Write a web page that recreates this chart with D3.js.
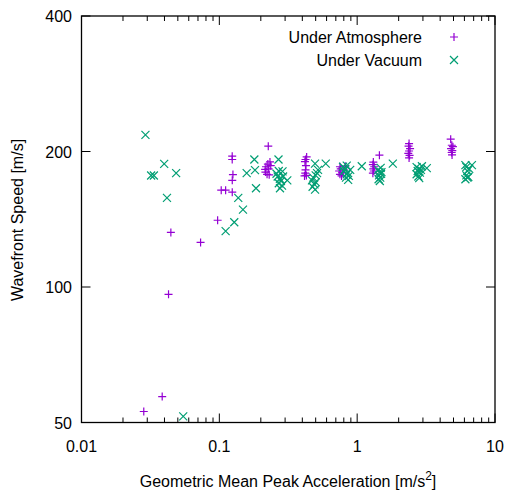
<!DOCTYPE html>
<html><head><meta charset="utf-8">
<script src="https://cdn.jsdelivr.net/npm/d3@7"></script>
<style>body{margin:0;background:#fff}svg{display:block}text{font-family:"Liberation Sans",Arial,sans-serif}</style>
</head><body>
<script>
const xTicks = [0.01, 0.1, 1, 10];
const xTickLabels = ["0.01", "0.1", "1", "10"];
const yTicks = [50, 100, 200, 400];
const yTickLabels = ["50", "100", "200", "400"];
const seriesNames = ["Under Atmosphere", "Under Vacuum"];

const atmosphere = [
  [0.0283,52.9],[0.0385,57.1],[0.0445,132.2],[0.0428,96.3],[0.0731,125.6],[0.0972,140.7],
  [0.1032,164.1],[0.1111,164.1],[0.1241,162.4],[0.1241,172.6],[0.1255,177.7],[0.124,192],[0.124,195.3],
  [0.2265,205.5],[0.233,189.6],[0.225,187.5],[0.218,185],[0.215,182.5],[0.216,180],[0.222,178],[0.23,177.5],[0.236,186],[0.228,183],
  [0.422,192],[0.43,194.5],[0.418,190],[0.425,186],[0.422,182],[0.42,179],[0.428,177],[0.415,176.5],
  [0.75,185],[0.76,183],[0.74,181],[0.78,179.5],[0.75,178],[0.77,176.5],[0.82,185.5],[0.8,182],
  [1.45,196.3],[1.31,189.5],[1.3,187],[1.33,185],[1.31,183],[1.32,181],[1.3,179],
  [2.38,208.3],[2.36,205.5],[2.42,203],[2.38,200.5],[2.35,198],[2.4,196],[2.38,193.5],
  [4.77,213],[4.86,206.5],[4.95,205],[4.8,203],[4.9,201],[4.85,199],[4.88,196.5]
];
const vacuum = [
  [0.0291,217.7],[0.0398,187.7],[0.0320,176.9],[0.0335,176.9],[0.0486,179],[0.0417,157.8],[0.0547,51.6],
  [0.1111,133.1],[0.1283,139.3],[0.1372,157.8],[0.1484,148.6],[0.1579,179],[0.1814,181.8],[0.1795,192],[0.1845,165.7],
  [0.2687,192],[0.2873,180.6],[0.26,178.5],[0.265,176],[0.275,174],[0.28,172],[0.27,170],[0.285,168],[0.3112,172.6],[0.2755,165.7],[0.29,176],[0.27,181],
  [0.4948,188],[0.5916,188],[0.5114,179],[0.48,175],[0.47,172.5],[0.5,171],[0.49,169],[0.475,167],[0.495,164.5],[0.5,177],[0.52,182],
  [1.08,185.5],[0.82,183],[0.8,181],[0.85,179.5],[0.84,178],[0.87,176.5],[0.83,175],[0.86,173],[0.89,182],[0.79,185],[0.84,186],
  [1.42,182],[1.45,180],[1.49,178.5],[1.44,177],[1.47,175],[1.43,173.5],[1.46,172],[1.5,180],[1.814,188],[1.48,184],
  [2.7,184.6],[2.8,183],[2.75,181],[2.9,182],[2.85,179.5],[2.7,178],[2.78,176],[2.82,174.5],[3.2,183.7],[2.95,185.5],
  [6.1,186.5],[6.2,184.6],[6.5,183],[6.8,186.5],[6.3,181],[6.2,177],[6.3,175],[6.1,173.5],[6.4,175.5]
];
const colors = ["#9400d3", "#009e73"];

const W = 509, H = 492;
const L = 81.5, R = 495, T = 16, B = 422.5;
const svg = d3.select("body").append("svg").attr("width", W).attr("height", H);
const x = d3.scaleLog().domain([0.01, 10]).range([L, R]);
const y = d3.scaleLog().base(2).domain([50, 400]).range([B, T]);

const minorX = [];
for (let d = 0.01; d < 10; d *= 10) for (let k = 2; k <= 9; k++) minorX.push(d * k);

const g = svg.append("g");
g.selectAll(".mxb").data(minorX).join("line")
  .attr("x1", d => x(d)).attr("x2", d => x(d)).attr("y1", B).attr("y2", B - 5)
  .attr("stroke", "#000").attr("stroke-width", 1);
g.selectAll(".mxt").data(minorX).join("line")
  .attr("x1", d => x(d)).attr("x2", d => x(d)).attr("y1", T).attr("y2", T + 5)
  .attr("stroke", "#000").attr("stroke-width", 1);
g.selectAll(".Mxb").data(xTicks).join("line")
  .attr("x1", d => x(d)).attr("x2", d => x(d)).attr("y1", B).attr("y2", B - 9)
  .attr("stroke", "#000").attr("stroke-width", 1);
g.selectAll(".Mxt").data(xTicks).join("line")
  .attr("x1", d => x(d)).attr("x2", d => x(d)).attr("y1", T).attr("y2", T + 9)
  .attr("stroke", "#000").attr("stroke-width", 1);
g.selectAll(".Myl").data(yTicks).join("line")
  .attr("x1", L).attr("x2", L + 9).attr("y1", d => y(d)).attr("y2", d => y(d))
  .attr("stroke", "#000").attr("stroke-width", 1);
g.selectAll(".Myr").data(yTicks).join("line")
  .attr("x1", R).attr("x2", R - 9).attr("y1", d => y(d)).attr("y2", d => y(d))
  .attr("stroke", "#000").attr("stroke-width", 1);

svg.selectAll(".xl").data(xTicks).join("text")
  .attr("x", d => x(d)).attr("y", 452).attr("text-anchor", "middle")
  .attr("font-size", 16).text((d, i) => xTickLabels[i]);
svg.selectAll(".yl").data(yTicks).join("text")
  .attr("x", 72).attr("y", d => y(d) + 6).attr("text-anchor", "end")
  .attr("font-size", 16).text((d, i) => yTickLabels[i]);

const xt = svg.append("text").attr("x", 288).attr("y", 487).attr("text-anchor", "middle").attr("font-size", 16);
xt.append("tspan").text("Geometric Mean Peak Acceleration [m/s");
xt.append("tspan").attr("dy", -7).attr("font-size", 12).text("2");
xt.append("tspan").attr("dy", 7).text("]");
svg.append("text").attr("transform", "translate(23,220) rotate(-90)")
  .attr("text-anchor", "middle").attr("font-size", 16).text("Wavefront Speed [m/s]");

function plus(sel, c) {
  sel.append("path").attr("d", "M-4,0H4M0,-4V4").attr("stroke", c).attr("stroke-width", 1.2).attr("fill", "none");
}
function cross(sel, c) {
  sel.append("path").attr("d", "M-4,-4L4,4M-4,4L4,-4").attr("stroke", c).attr("stroke-width", 1.2).attr("fill", "none");
}

const pa = svg.append("g");
pa.selectAll("g").data(atmosphere).join("g")
  .attr("transform", d => `translate(${x(d[0])},${y(d[1])})`)
  .each(function () { plus(d3.select(this), colors[0]); });
const pv = svg.append("g");
pv.selectAll("g").data(vacuum).join("g")
  .attr("transform", d => `translate(${x(d[0])},${y(d[1])})`)
  .each(function () { cross(d3.select(this), colors[1]); });

const leg = svg.append("g");
const legY = [37, 60];
seriesNames.forEach((n, i) => {
  leg.append("text").attr("x", 422).attr("y", legY[i] + 6).attr("text-anchor", "end")
    .attr("font-size", 16).text(n);
  const s = leg.append("g").attr("transform", `translate(454,${legY[i]})`);
  if (i === 0) plus(s, colors[0]); else cross(s, colors[1]);
});

svg.append("rect").attr("x", L).attr("y", T).attr("width", R - L).attr("height", B - T)
  .attr("fill", "none").attr("stroke", "#000").attr("stroke-width", 1.3);
</script>
</body></html>
